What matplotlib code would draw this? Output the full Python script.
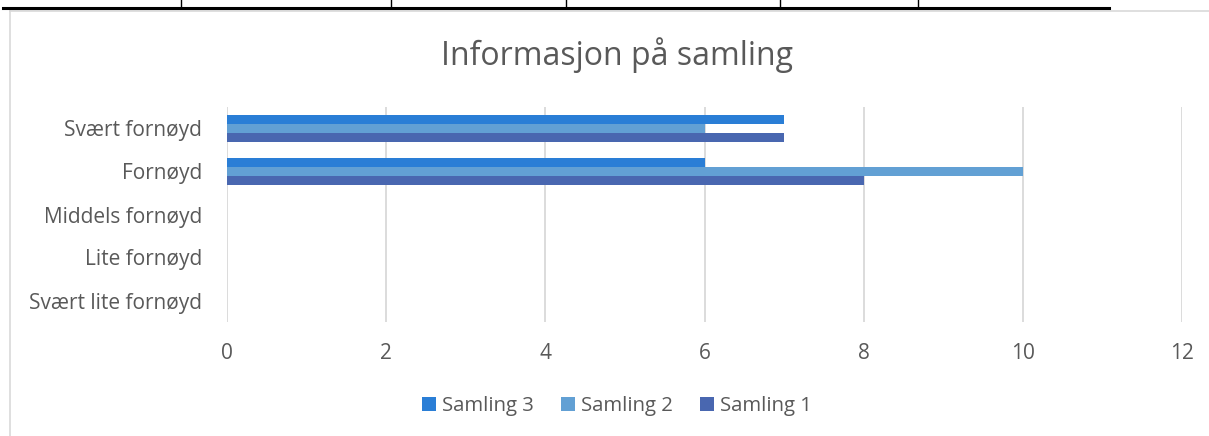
import numpy as np
import matplotlib.pyplot as plt
from matplotlib.lines import Line2D

# data
categories = ['Svært lite fornøyd', 'Lite fornøyd', 'Middels fornøyd', 'Fornøyd', 'Svært fornøyd']
samling_1 = [0, 0, 0, 8, 7]
samling_2 = [0, 0, 0, 10, 6]
samling_3 = [0, 0, 0, 6, 7]
series_names = ['Samling 3', 'Samling 2', 'Samling 1']
colors = ['#2A7ED6', '#62A0D4', '#4967B0']
x_ticks = [0, 2, 4, 6, 8, 10, 12]

plt.rcParams['font.family'] = ['Open Sans', 'DejaVu Sans']
text_col = '#595959'

fig = plt.figure(figsize=(12.09, 4.36), dpi=100)
ax = fig.add_axes([227 / 1209, 1 - 322 / 436, (1182 - 227) / 1209, 215 / 436])

y = np.arange(len(categories))
h = 0.21
ax.barh(y - h, samling_1, height=h, color=colors[2], label='Samling 1', zorder=3)
ax.barh(y, samling_2, height=h, color=colors[1], label='Samling 2', zorder=3)
ax.barh(y + h, samling_3, height=h, color=colors[0], label='Samling 3', zorder=3)

ax.set_xlim(0, 12)
ax.set_ylim(-0.5, 4.5)
ax.set_xticks(x_ticks)
ax.set_yticks(y)
ax.set_yticklabels(categories)
ax.grid(axis='x', color='#D9D9D9', linewidth=1.3, zorder=0)
for s in ax.spines.values():
    s.set_visible(False)
ax.tick_params(axis='both', length=0, labelsize=15, colors=text_col)
ax.tick_params(axis='x', pad=15)
ax.tick_params(axis='y', pad=18)

fig.text(617 / 1209, 1 - 55 / 436, 'Informasjon på samling', ha='center', va='center',
         fontsize=23, color=text_col)

handles, labels = ax.get_legend_handles_labels()
order = [2, 1, 0]
fig.legend([handles[i] for i in order], [labels[i] for i in order],
           loc='center', bbox_to_anchor=(617 / 1209, 1 - 406 / 436), ncol=3,
           frameon=False, fontsize=14.7, labelcolor=text_col, handlelength=0.7,
           handleheight=0.7, handletextpad=0.3, columnspacing=1.3)

# chart frame and table lines from the page
fig.add_artist(Line2D([10 / 1209, 10 / 1209], [0, 1 - 11 / 436], color='#D9D9D9', lw=1.2))
fig.add_artist(Line2D([10 / 1209, 1], [1 - 11 / 436, 1 - 11 / 436], color='#D9D9D9', lw=1.2))
fig.add_artist(Line2D([3 / 1209, 1109 / 1209], [1 - 8 / 436, 1 - 8 / 436], color='black', lw=2.2))
for xv in [181, 391, 566, 780, 918]:
    fig.add_artist(Line2D([xv / 1209, xv / 1209], [1 - 8 / 436, 1], color='black', lw=1))

fig.savefig('out.png', dpi=100)
